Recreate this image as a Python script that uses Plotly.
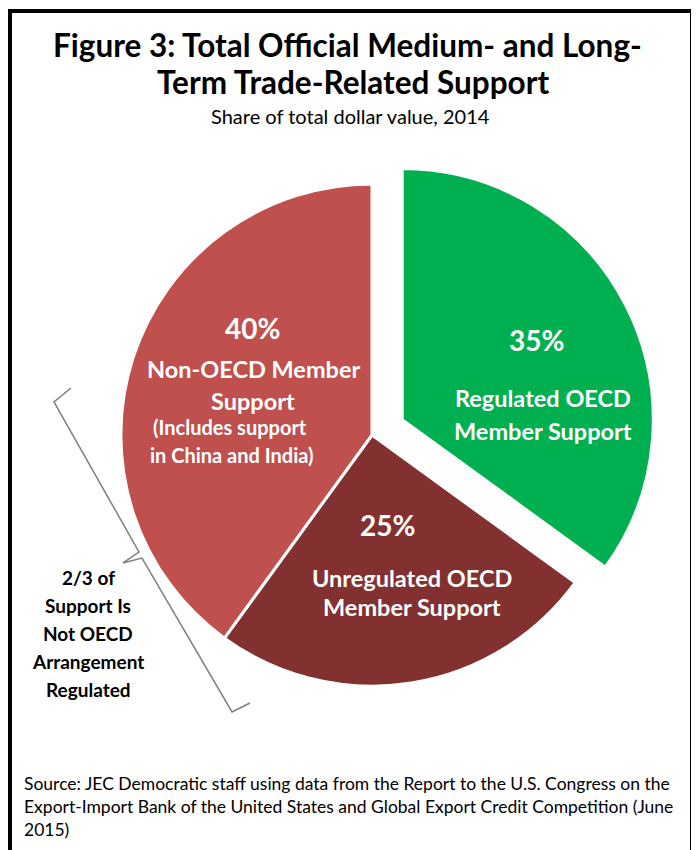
"""
Figure 3 - share of official medium- and long-term trade-related support, 2014.
"""

import plotly.graph_objects as go

# ─────────────────────────────────────────────
# DATA
# ─────────────────────────────────────────────

SLICE_NAMES = [
    "Regulated OECD Member Support",
    "Unregulated OECD Member Support",
    "Non-OECD Member Support",
]
SLICE_SHARES = [35, 25, 40]
SLICE_PULL = [0.135, 0, 0]
SLICE_COLORS = ["#00B050", "#833130", "#C0504D"]

TITLE_LINES = ["Figure 3: Total Official Medium- and Long-", "Term Trade-Related Support"]
SUBTITLE = "Share of total dollar value, 2014"
BRACKET_NOTE = ["2/3 of", "Support Is", "Not OECD", "Arrangement", "Regulated"]
SOURCE_LINES = [
    "Source: JEC Democratic staff using data from the Report to the U.S. Congress on the",
    "Export-Import Bank of the United States and Global Export Credit Competition (June",
    "2015)",
]

W, H = 699, 850
PAGE_OFFSET = 8  # the html body margin pushes the figure right/down
FONT = "Lato"


def px_x(x):
    return (x - PAGE_OFFSET) / W


def px_y(y):
    return 1 - (y - PAGE_OFFSET) / H


def text(x, y, s, size, bold=True, color="white", anchor="center"):
    """Annotation placed by pixel position of its centre."""
    return dict(
        x=px_x(x), y=px_y(y), xref="paper", yref="paper",
        text=f"<b>{s}</b>" if bold else s,
        showarrow=False, xanchor=anchor, yanchor="middle",
        font=dict(family=FONT, size=size, color=color),
    )


fig = go.Figure(go.Pie(
    labels=SLICE_NAMES,
    values=SLICE_SHARES,
    pull=SLICE_PULL,
    sort=False,
    direction="clockwise",
    rotation=0,
    textinfo="none",
    hoverinfo="label+percent",
    marker=dict(colors=SLICE_COLORS, line=dict(color="white", width=3)),
    domain=dict(x=[px_x(87), px_x(657)], y=[px_y(720), px_y(150)]),
    showlegend=False,
))

# slice labels
pct = [f"{v}%" for v in SLICE_SHARES]
annotations = [
    text(536, 340, pct[0], 28),
    text(543, 398, "Regulated OECD", 23.5),
    text(543, 431, "Member Support", 23.5),
    text(388, 525, pct[1], 28),
    text(412, 578, "Unregulated OECD", 23.5),
    text(412, 607, "Member Support", 23.5),
    text(252, 328, pct[2], 28),
    text(253, 369, "Non-OECD Member", 23.5),
    text(253, 401, "Support", 23.5),
    text(230, 427, "(Includes support", 20),
    text(232, 455, "in China and India)", 20),
    text(350, 116, SUBTITLE, 20, bold=False, color="black"),
]
annotations.append(text(347, 45, TITLE_LINES[0], 31.5, color="black"))
annotations.append(text(353, 82, TITLE_LINES[1], 31.5, color="black"))
for i, line in enumerate(BRACKET_NOTE):
    annotations.append(text(88, 577 + 28 * i, line, 19, color="black"))
for i, line in enumerate(SOURCE_LINES):
    annotations.append(text(22, 783 + 23 * i, line, 17.5, bold=False, color="black", anchor="left"))

# curly bracket beside the non-regulated share
bracket = [(71, 388), (54, 402), (139, 552), (123, 563), (142, 558), (232, 712), (250, 703)]
path = "M " + " L ".join(f"{px_x(x):.4f},{px_y(y):.4f}" for x, y in bracket)

fig.update_layout(
    width=W,
    height=H,
    margin=dict(l=0, r=0, t=0, b=0),
    paper_bgcolor="white",
    plot_bgcolor="white",
    font=dict(family=FONT),
    annotations=annotations,
    shapes=[
        dict(type="path", path=path, xref="paper", yref="paper",
             line=dict(color="#7F7F7F", width=1.5)),
        dict(type="rect", xref="paper", yref="paper",
             x0=px_x(10), x1=px_x(692), y0=px_y(870), y1=px_y(11),
             line=dict(color="black", width=4)),
    ],
)

fig.write_html("out.html")
